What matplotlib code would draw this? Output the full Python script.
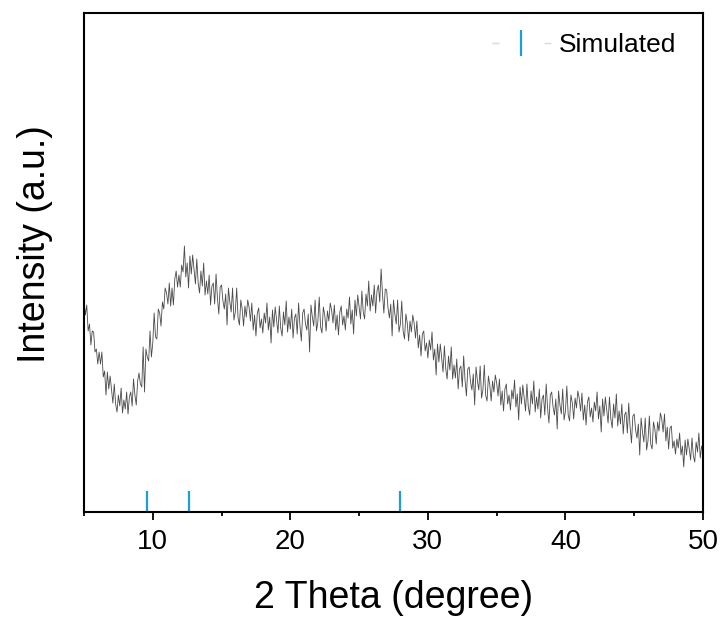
import numpy as np
import matplotlib
matplotlib.use("Agg")
import matplotlib.pyplot as plt
from matplotlib.lines import Line2D

plt.rcParams['font.family'] = ['Liberation Sans', 'DejaVu Sans']

# 2-theta grid (degree), 0.1 step from 5 to 50
two_theta = np.round(np.linspace(5.0, 50.0, 451), 1)

intensity = [
    212,197,207,181,188,167,181,180,160,163,
    148,160,148,160,135,141,117,140,123,136,
    123,109,128,108,100,117,106,124,99,112,
    103,120,98,115,120,106,133,117,107,131,
    139,128,125,165,120,163,155,151,181,155,
    169,199,175,173,203,199,186,210,203,224,
    219,208,229,206,224,207,233,241,225,237,
    225,247,240,266,235,249,224,256,238,257,
    243,228,253,229,219,241,226,249,217,231,
    218,237,207,226,229,208,238,214,198,225,
    227,211,203,218,187,224,210,200,224,192,
    200,224,194,187,212,203,186,206,195,212,
    205,191,209,182,197,176,199,204,184,193,
    179,199,189,209,182,195,169,202,185,205,
    192,179,206,184,176,200,187,211,180,195,
    183,203,174,194,198,178,209,186,171,199,
    203,188,182,198,160,207,195,186,212,181,
    190,215,185,179,205,197,181,201,191,209,
    202,189,207,182,197,177,200,206,187,196,
    182,203,194,215,188,202,178,212,196,217,
    205,193,221,200,193,218,206,231,201,217,
    206,227,199,221,227,210,243,218,199,223,
    222,204,194,208,176,212,198,188,212,180,
    188,211,181,173,198,189,171,191,180,197,
    189,174,191,164,177,156,178,181,161,169,
    154,172,162,180,152,163,137,168,150,168,
    154,140,166,143,133,156,142,165,133,147,
    134,153,123,143,146,125,156,132,116,143,
    145,130,122,138,107,145,131,122,146,114,
    122,147,117,111,136,127,111,131,120,137,
    129,116,133,107,121,101,123,128,108,117,
    102,122,113,132,105,118,92,125,108,127,
    114,101,128,105,97,121,108,131,100,115,
    103,123,94,113,117,97,128,104,89,117,
    120,105,97,113,83,121,107,98,123,92,
    101,126,97,91,117,109,93,114,104,121,
    114,101,119,92,107,87,110,115,95,104,
    90,110,101,120,93,106,80,113,96,115,
    102,89,115,93,84,108,94,118,86,101,
    88,108,78,97,100,79,109,85,69,96,
    98,82,74,88,57,94,80,70,94,62,
    71,96,68,63,90,83,68,90,81,99,
    93,80,98,71,85,63,84,86,64,71,
    58,73,64,79,57,66,45,72,57,73,
    63,52,74,56,50,70,60,79,54,66,
    60,
]

# Simulated reflections (2-theta) and stick height
sim_peaks = [9.6, 12.65, 28.0]
sim_height = 21

x_major = [10, 20, 30, 40, 50]
x_minor = [5, 15, 25, 35, 45]

blue = '#1a9fd6'

fig = plt.figure(figsize=(7.24, 6.19), dpi=100)
ax = fig.add_axes([84/724, 1 - 512/619, (703 - 84)/724, (512 - 13)/619])

ax.plot(two_theta, intensity, color='#4a4a4a', lw=0.6)
ax.vlines(sim_peaks, 0, sim_height, color=blue, lw=1.6)

ax.set_xlim(5, 50)
ax.set_ylim(0, 499)
ax.set_xticks(x_major)
ax.set_xticks(x_minor, minor=True)
ax.set_yticks([])
ax.tick_params(axis='x', which='major', direction='out', length=6, width=1.3,
               labelsize=20, pad=6)
ax.tick_params(axis='x', which='minor', direction='out', length=3.2, width=1.3)
for s in ax.spines.values():
    s.set_linewidth(1.5)

ax.set_xlabel('2 Theta (degree)', fontsize=27, labelpad=18)
fig.text(35/724, 1 - 244/619, 'Intensity (a.u.)', rotation=90,
         fontsize=27, ha='center', va='center')

h = Line2D([], [], color='#d9d9d9', lw=1, linestyle=(0, (5, 32.5)),
           marker='|', markersize=19, markeredgecolor=blue,
           markerfacecolor=blue, markeredgewidth=1.6)
ax.legend(handles=[h], labels=['Simulated'], frameon=False, fontsize=19,
          handlelength=2.24, handletextpad=0.3, numpoints=1,
          loc='center right', bbox_to_anchor=(700/724, 1 - 45/619),
          bbox_transform=fig.transFigure)

fig.savefig('out.png', dpi=100)
